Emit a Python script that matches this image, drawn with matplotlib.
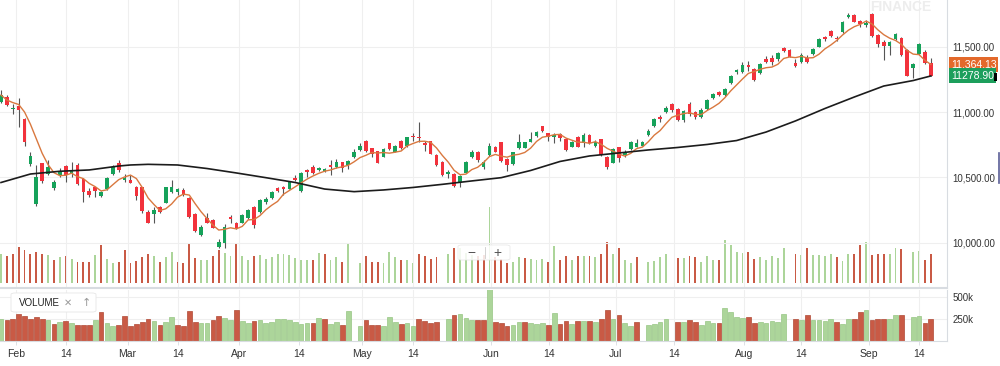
import numpy as np
import pandas as pd
import matplotlib
matplotlib.use("Agg")
import matplotlib.pyplot as plt
from matplotlib.patches import FancyBboxPatch, Rectangle
from matplotlib.lines import Line2D

plt.rcParams['font.family'] = ['Liberation Sans', 'DejaVu Sans']

# daily candles (trading-day index 0..158)
opens = [11079, 11117, 11021, 11048, 10944, 10602, 10296, 10608, 10524, 10417,
         10518, 10587, 10531, 10595, 10488, 10396, 10424, 10358, 10409, 10526,
         10612, 10480, 10480, 10429, 10424, 10238, 10220, 10271, 10306, 10390,
         10390, 10404, 10345, 10218, 10059, 10187, 10174, 9970, 9996, 10195,
         10149, 10153, 10187, 10276, 10233, 10314, 10340, 10417, 10429, 10411,
         10498, 10398, 10557, 10582, 10557, 10549, 10595, 10577, 10616, 10595,
         10654, 10710, 10781, 10723, 10702, 10658, 10761, 10697, 10781, 10742,
         10819, 10812, 10761, 10778, 10671, 10620, 10526, 10526, 10467, 10536,
         10654, 10692, 10577, 10671, 10735, 10768, 10639, 10600, 10723, 10727,
         10773, 10819, 10893, 10838, 10807, 10830, 10792, 10735, 10812, 10761,
         10824, 10742, 10792, 10654, 10612, 10730, 10671, 10715, 10735, 10742,
         10825, 10896, 10965, 11003, 11059, 11021, 10939, 11059, 11003, 10964,
         11023, 11105, 11151, 11130, 11220, 11304, 11309, 11360, 11329, 11301,
         11404, 11411, 11404, 11488, 11475, 11373, 11385, 11411, 11442, 11500,
         11577, 11622, 11569, 11610, 11729, 11742, 11696, 11666, 11750, 11589,
         11538, 11508, 11557, 11569, 11475, 11335, 11442, 11462, 11377]
highs = [11169, 11130, 11061, 11110, 10954, 10697, 10595, 10612, 10633, 10480,
         10572, 10595, 10615, 10610, 10495, 10419, 10429, 10396, 10503, 10595,
         10633, 10524, 10518, 10435, 10429, 10251, 10276, 10281, 10429, 10480,
         10417, 10417, 10352, 10225, 10136, 10230, 10179, 10026, 10141, 10212,
         10161, 10220, 10258, 10281, 10335, 10352, 10396, 10424, 10435, 10472,
         10518, 10544, 10562, 10595, 10580, 10570, 10633, 10639, 10620, 10633,
         10717, 10761, 10786, 10727, 10704, 10723, 10765, 10748, 10786, 10812,
         10838, 10926, 10781, 10781, 10677, 10626, 10557, 10531, 10518, 10626,
         10710, 10704, 10633, 10765, 10742, 10773, 10646, 10697, 10830, 10773,
         10845, 10855, 10896, 10838, 10838, 10838, 10799, 10781, 10817, 10842,
         10830, 10786, 10794, 10664, 10723, 10735, 10710, 10781, 10792, 10778,
         10868, 10952, 10977, 11046, 11071, 11029, 11015, 11075, 11008, 11029,
         11100, 11143, 11161, 11182, 11283, 11329, 11385, 11390, 11335, 11373,
         11429, 11436, 11462, 11500, 11480, 11404, 11454, 11436, 11488, 11564,
         11584, 11628, 11582, 11699, 11760, 11750, 11704, 11704, 11755, 11595,
         11551, 11546, 11602, 11576, 11480, 11373, 11526, 11475, 11411]
lows = [11069, 11046, 10985, 10888, 10740, 10589, 10284, 10455, 10516, 10404,
        10503, 10462, 10505, 10442, 10309, 10350, 10352, 10350, 10404, 10518,
        10544, 10462, 10455, 10327, 10225, 10149, 10153, 10228, 10302, 10383,
        10365, 10360, 10187, 10085, 10052, 10149, 10110, 9958, 9958, 10153,
        10103, 10149, 10182, 10115, 10228, 10296, 10332, 10390, 10365, 10409,
        10475, 10390, 10505, 10526, 10549, 10541, 10518, 10570, 10544, 10564,
        10646, 10704, 10697, 10658, 10608, 10654, 10710, 10692, 10717, 10735,
        10781, 10773, 10704, 10677, 10587, 10511, 10498, 10429, 10429, 10531,
        10646, 10620, 10562, 10666, 10692, 10620, 10551, 10595, 10717, 10723,
        10768, 10812, 10850, 10781, 10761, 10781, 10704, 10730, 10730, 10735,
        10756, 10735, 10666, 10564, 10608, 10615, 10654, 10710, 10735, 10738,
        10819, 10888, 10922, 10990, 11003, 10931, 10926, 10972, 10944, 10952,
        11015, 11097, 11123, 11123, 11214, 11291, 11301, 11314, 11237, 11291,
        11373, 11360, 11391, 11462, 11419, 11347, 11378, 11378, 11436, 11495,
        11546, 11577, 11546, 11602, 11717, 11686, 11653, 11648, 11576, 11500,
        11398, 11436, 11551, 11429, 11276, 11258, 11436, 11367, 11276]
closes = [11130, 11054, 11033, 11015, 10768, 10664, 10501, 10472, 10582, 10462,
          10549, 10518, 10551, 10449, 10386, 10365, 10396, 10386, 10493, 10582,
          10557, 10498, 10459, 10360, 10243, 10153, 10247, 10233, 10424, 10429,
          10411, 10365, 10195, 10092, 10123, 10153, 10115, 10003, 10123, 10179,
          10111, 10212, 10251, 10136, 10327, 10335, 10386, 10398, 10411, 10467,
          10480, 10536, 10539, 10531, 10570, 10562, 10582, 10616, 10574, 10628,
          10697, 10742, 10704, 10679, 10612, 10715, 10717, 10742, 10723, 10807,
          10807, 10799, 10748, 10679, 10595, 10518, 10544, 10434, 10513, 10616,
          10692, 10633, 10616, 10740, 10697, 10626, 10595, 10692, 10773, 10768,
          10792, 10850, 10855, 10812, 10824, 10804, 10710, 10773, 10735, 10824,
          10761, 10773, 10671, 10582, 10715, 10651, 10697, 10773, 10765, 10773,
          10857, 10947, 10950, 11029, 11015, 10939, 11008, 10983, 10960, 11015,
          11092, 11136, 11130, 11174, 11278, 11322, 11360, 11344, 11245, 11365,
          11381, 11385, 11449, 11469, 11423, 11354, 11436, 11385, 11480, 11557,
          11557, 11584, 11557, 11691, 11742, 11691, 11671, 11683, 11582, 11518,
          11505, 11538, 11595, 11436, 11278.75, 11368, 11518, 11377, 11278.90]

# volume in thousands, nan where the feed has no bar
nan = np.nan
volume = [246, 231, 246, 307, 284, 246, 269, 250, 239, 193,
          219, 227, 208, 182, 182, 182, 239, 322, 208, 170,
          182, 284, 174, 189, 219, 250, 227, 182, 219, 269,
          182, 170, 333, 212, 200, 200, 231, 284, 258, 231,
          345, 227, 200, 227, 239, 208, 219, 250, 250, 239,
          212, 193, 200, 200, 258, 246, 193, 219, 182, 333,
          nan, 170, 231, 182, 182, 170, 269, 219, 193, 200,
          170, 250, 227, 208, 219, nan, 246, 295, 303, 258,
          239, 231, 239, 650, 219, 201, 170, 182, 219, 212,
          208, 193, 208, 182, 314, 193, 227, 193, 227, 227,
          227, 219, 246, 352, 246, 295, 200, 170, 219, nan,
          182, 189, 219, 250, nan, 212, 212, 231, 219, 182,
          227, 200, 200, 371, 322, 265, 258, 269, 208, 219,
          200, 227, 212, 303, nan, 246, 239, 295, 239, 239,
          227, 250, 219, 189, 246, 250, 322, 352, 239, 250,
          246, 250, 295, 288, nan, 269, 277, 200, 246]

# long moving average (black line), sampled off the chart
long_ma_idx = [0, 5, 10, 15, 20, 22, 25, 30, 35, 40, 45, 50, 55, 60, 65, 70, 75,
               80, 85, 90, 95, 100, 105, 110, 115, 120, 125, 130, 135, 140, 145,
               150, 155, 158]
long_ma_val = [10461, 10526, 10547, 10557, 10587, 10595, 10600, 10595, 10568,
               10534, 10498, 10461, 10411, 10391, 10404, 10423, 10447, 10473,
               10498, 10553, 10622, 10664, 10687, 10710, 10729, 10752, 10782,
               10847, 10932, 11027, 11115, 11199, 11241, 11276]

tick_pos = [2.5, 11.0, 21.5, 30.1, 40.5, 50.6, 61.4, 70.0, 83.3, 93.1,
            104.5, 114.4, 126.3, 135.9, 147.5, 156.0]
tick_lab = ['Feb', '14', 'Mar', '14', 'Apr', '14', 'May', '14', 'Jun', '14',
            'Jul', '14', 'Aug', '14', 'Sep', '14']
price_ticks = [10000, 10500, 11000, 11500]
vol_ticks = [250, 500]

c_up, c_dn = '#16a25a', '#f2323c'
v_up, v_dn = '#acd59a', '#c95a45'
grid_c = '#efefef'
spine_c = '#d8dce1'
txt_c = '#333333'

o = np.array(opens, float)
h = np.array(highs, float)
l = np.array(lows, float)
c = np.array(closes, float)
vol = np.array(volume, float)
idx = np.arange(len(c))

up = c >= o
prev = np.concatenate([[o[0]], c[:-1]])
vol_up = c >= prev
sma5 = pd.Series(c).rolling(5, min_periods=1).mean().values

fig = plt.figure(figsize=(10, 3.66), dpi=100)
fig.patch.set_facecolor('white')
rect = [0, 0.2131, 0.947, 0.7869]
xlim = (-0.17, 160.75)

# volume overlay inside the price panel
axv = fig.add_axes(rect)
axv.bar(idx, vol, width=0.32, color=np.where(vol_up, v_up, v_dn), linewidth=0)
axv.set_xlim(*xlim)
axv.set_ylim(-43, 2419)
axv.axis('off')

ax = fig.add_axes(rect)
ax.patch.set_alpha(0)
ax.set_xlim(*xlim)
ax.set_ylim(9654, 11857)
for x in tick_pos:
    ax.axvline(x, color=grid_c, lw=0.8, zorder=0)
for y in price_ticks:
    ax.axhline(y, color=grid_c, lw=0.8, zorder=0)

ax.vlines(idx, l, h, color='#555555', lw=0.8, zorder=2)
body = np.maximum(np.abs(c - o), 6)
ax.bar(idx, body, bottom=np.minimum(o, c), width=0.62,
       color=np.where(up, c_up, c_dn), linewidth=0, zorder=3)
ax.plot(idx, sma5, color='#d9783f', lw=1.0, zorder=4)
ax.plot(long_ma_idx, long_ma_val, color='#1c1c1c', lw=1.2, zorder=4)

ax.yaxis.tick_right()
ax.set_yticks(price_ticks)
ax.set_yticklabels([f"{v:,.2f}" for v in price_ticks])
ax.tick_params(axis='y', length=0, pad=4, labelsize=7, colors=txt_c)
ax.set_xticks([])
for s in ['top', 'left']:
    ax.spines[s].set_visible(False)
ax.spines['right'].set_color(spine_c)
ax.spines['bottom'].set_color(spine_c)
ax.spines['bottom'].set_linewidth(1.5)

# last value tags
ytr = ax.get_yaxis_transform()
ax.text(1.004, sma5[-1], f"{sma5[-1]:,.2f}", transform=ytr, ha='left', va='center',
        fontsize=7.5, color='white',
        bbox=dict(boxstyle='square,pad=0.2', fc='#e3692b', ec='none'))
ax.text(1.004, c[-1], f"{c[-1]:.2f}", transform=ytr, ha='left', va='center',
        fontsize=7.5, color='white',
        bbox=dict(boxstyle='square,pad=0.2', fc='#1d9f5c', ec='none'))

# volume panel
axb = fig.add_axes([0, 0.0683, 0.947, 0.139])
axb.set_xlim(*xlim)
axb.set_ylim(0, 572)
for x in tick_pos:
    axb.axvline(x, color=grid_c, lw=0.8, zorder=0)
for y in vol_ticks:
    axb.axhline(y, color=grid_c, lw=0.8, zorder=0)
axb.bar(idx, vol, width=0.8, color=np.where(vol_up, v_up, v_dn),
        edgecolor=np.where(vol_up, '#97c684', '#b04a36'), linewidth=0.5, zorder=2)
axb.yaxis.tick_right()
axb.set_yticks(vol_ticks)
axb.set_yticklabels([f"{v}k" for v in vol_ticks])
axb.tick_params(axis='y', length=0, pad=4, labelsize=7, colors=txt_c)
axb.set_xticks(tick_pos)
axb.set_xticklabels(tick_lab)
axb.tick_params(axis='x', length=3, width=0.6, color=spine_c, pad=3,
                labelsize=7.5, labelcolor=txt_c)
for s in ['top', 'left']:
    axb.spines[s].set_visible(False)
axb.spines['right'].set_color(spine_c)
axb.spines['bottom'].set_color(spine_c)

# chart furniture
fig.text(0.9005, 0.981, 'FINANCE', ha='center', va='center', fontsize=10,
         weight='bold', color='#ededed')

fig.patches.append(FancyBboxPatch((0.458, 0.2896), 0.052, 0.041,
                                  boxstyle='round,pad=0,rounding_size=0.004',
                                  transform=fig.transFigure, fc='white', alpha=0.85,
                                  ec='#e6e6e6', lw=0.6, zorder=5))
fig.text(0.471, 0.310, '\u2212', ha='center', va='center', fontsize=10, color='#555555', zorder=6)
fig.text(0.497, 0.310, '+', ha='center', va='center', fontsize=10, color='#555555', zorder=6)
fig.lines.append(Line2D([0.485, 0.485], [0.295, 0.325], transform=fig.transFigure,
                        color='#cccccc', lw=0.6, zorder=6))

fig.patches.append(FancyBboxPatch((0.011, 0.1475), 0.085, 0.052,
                                  boxstyle='round,pad=0,rounding_size=0.004',
                                  transform=fig.transFigure, fc='white',
                                  ec='#e6e6e6', lw=0.6, zorder=5))
fig.text(0.019, 0.172, 'VOLUME', ha='left', va='center', fontsize=7, color='#222222', zorder=6)
fig.text(0.068, 0.172, '\u2715', ha='center', va='center', fontsize=7, color='#999999',
         zorder=6, family=['DejaVu Sans'])
fig.text(0.086, 0.172, '\u2191', ha='center', va='center', fontsize=8, color='#999999',
         zorder=6, family=['DejaVu Sans'])

fig.patches.append(Rectangle((0.994, 0.779), 0.003, 0.022, transform=fig.transFigure,
                             fc='black', ec='none', zorder=7))
fig.lines.append(Line2D([0.999, 0.999], [0.50, 0.582], transform=fig.transFigure,
                        color='#5b5f97', lw=1.2))

fig.savefig('out.png', dpi=100, facecolor='white')
